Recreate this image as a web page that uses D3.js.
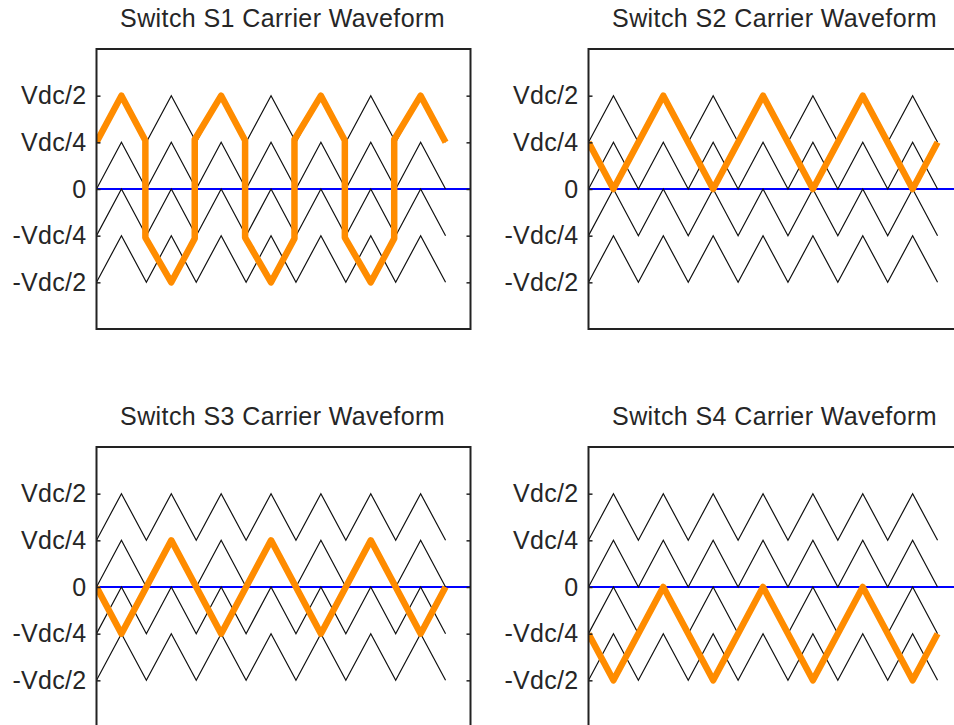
<!DOCTYPE html>
<html>
<head>
<meta charset="utf-8">
<script src="https://cdn.jsdelivr.net/npm/d3@7"></script>
<style>
  html, body { margin: 0; padding: 0; background: #fff; overflow: hidden; }
  svg { display: block; }
</style>
</head>
<body>
<svg id="chart" width="954" height="725"></svg>
<script>
// ---------------- data ----------------
const panelTitles = [
  "Switch S1 Carrier Waveform",
  "Switch S2 Carrier Waveform",
  "Switch S3 Carrier Waveform",
  "Switch S4 Carrier Waveform"
];

const yTickValues = [0.5, 0.25, 0, -0.25, -0.5];
const yTickLabels = ["Vdc/2", "Vdc/4", "0", "-Vdc/4", "-Vdc/2"];

// carrier vertex times (in carrier periods)
const carrierT = [0, 0.5, 1, 1.5, 2, 2.5, 3, 3.5, 4, 4.5, 5, 5.5, 6, 6.5, 7];
// four level-shifted carriers (fraction of Vdc)
const carrier1 = [0.25, 0.5, 0.25, 0.5, 0.25, 0.5, 0.25, 0.5, 0.25, 0.5, 0.25, 0.5, 0.25, 0.5, 0.25];
const carrier2 = [0, 0.25, 0, 0.25, 0, 0.25, 0, 0.25, 0, 0.25, 0, 0.25, 0, 0.25, 0];
const carrier3 = [-0.25, 0, -0.25, 0, -0.25, 0, -0.25, 0, -0.25, 0, -0.25, 0, -0.25, 0, -0.25];
const carrier4 = [-0.5, -0.25, -0.5, -0.25, -0.5, -0.25, -0.5, -0.25, -0.5, -0.25, -0.5, -0.25, -0.5, -0.25, -0.5];

// switch reference (orange) waveforms
const s1T = [0, 0.5, 0.98, 0.98, 1.5, 1.97, 1.97, 2.5, 2.98, 2.98, 3.5, 3.97, 3.97, 4.5, 4.98, 4.98, 5.5, 5.97, 5.97, 6.5, 7];
const s1V = [0.25, 0.5, 0.26, -0.26, -0.5, -0.265, 0.265, 0.5, 0.26, -0.26, -0.5, -0.265, 0.265, 0.5, 0.26, -0.26, -0.5, -0.265, 0.265, 0.5, 0.25];

const sT = [0, 0.5, 1.5, 2.5, 3.5, 4.5, 5.5, 6.5, 7];
const s2V = [0.25, 0, 0.5, 0, 0.5, 0, 0.5, 0, 0.25];
const s3V = [0, -0.25, 0.25, -0.25, 0.25, -0.25, 0.25, -0.25, 0];
const s4V = [-0.25, -0.5, 0, -0.5, 0, -0.5, 0, -0.5, -0.25];

const xDomain = [0, 7.5];
const yDomain = [-0.75, 0.75];

// ---------------- drawing ----------------
const svg = d3.select("#chart");
const FONT = "'Liberation Sans', Arial, Helvetica, sans-serif";
const TEXT_COLOR = "#262626";

const panels = [
  { title: panelTitles[0], refT: s1T, refV: s1V, left: 96.5, top: 49 },
  { title: panelTitles[1], refT: sT,  refV: s2V, left: 588.5, top: 49 },
  { title: panelTitles[2], refT: sT,  refV: s3V, left: 96.5, top: 447 },
  { title: panelTitles[3], refT: sT,  refV: s4V, left: 588.5, top: 447 }
];
const W = 374, H = 280;
const carriers = [carrier1, carrier2, carrier3, carrier4];

panels.forEach((p, pi) => {
  const x = d3.scaleLinear().domain(xDomain).range([0, W]);
  const y = d3.scaleLinear().domain(yDomain).range([H, 0]);
  const g = svg.append("g").attr("transform", `translate(${p.left},${p.top})`);

  const clipId = "clip" + pi;
  g.append("clipPath").attr("id", clipId)
    .append("rect").attr("x", 0).attr("y", 0).attr("width", W).attr("height", H);

  const plot = g.append("g").attr("clip-path", `url(#${clipId})`);

  // zero reference line
  plot.append("line")
    .attr("x1", 0).attr("x2", W)
    .attr("y1", y(0)).attr("y2", y(0))
    .attr("stroke", "#0000ff").attr("stroke-width", 2);

  const line = d3.line().x(d => x(d[0])).y(d => y(d[1]));

  carriers.forEach(c => {
    plot.append("path")
      .datum(carrierT.map((t, i) => [t, c[i]]))
      .attr("d", line)
      .attr("fill", "none")
      .attr("stroke", "#111")
      .attr("stroke-width", 1.2);
  });

  plot.append("path")
    .datum(p.refT.map((t, i) => [t, p.refV[i]]))
    .attr("d", line)
    .attr("fill", "none")
    .attr("stroke", "#ff8c00")
    .attr("stroke-width", 6.5)
    .attr("stroke-linejoin", "round");

  // axes
  const yl = d3.axisLeft(y)
    .tickValues(yTickValues)
    .tickFormat((d, i) => yTickLabels[i])
    .tickSizeInner(-4).tickSizeOuter(0).tickPadding(10);
  const ga = g.append("g").call(yl);
  ga.select(".domain").remove();
  ga.selectAll(".tick line").attr("stroke", "#222").attr("stroke-width", 1.5);
  ga.selectAll(".tick text")
    .attr("font-family", FONT).attr("font-size", 25)
    .attr("letter-spacing", "0.3px")
    .attr("fill", TEXT_COLOR)
    .attr("dy", "0.33em");

  const yr = d3.axisRight(y)
    .tickValues(yTickValues)
    .tickFormat("")
    .tickSizeInner(-4).tickSizeOuter(0);
  const gr = g.append("g").attr("transform", `translate(${W},0)`).call(yr);
  gr.select(".domain").remove();
  gr.selectAll(".tick line").attr("stroke", "#222").attr("stroke-width", 1.5);

  // frame
  g.append("rect")
    .attr("x", 0).attr("y", 0).attr("width", W).attr("height", H)
    .attr("fill", "none").attr("stroke", "#222").attr("stroke-width", 2);

  // title
  g.append("text")
    .attr("x", W / 2 - 1).attr("y", -22)
    .attr("text-anchor", "middle")
    .attr("font-family", FONT).attr("font-size", 25)
    .attr("letter-spacing", "0.4px")
    .attr("fill", TEXT_COLOR)
    .text(p.title);
});
</script>
</body>
</html>
